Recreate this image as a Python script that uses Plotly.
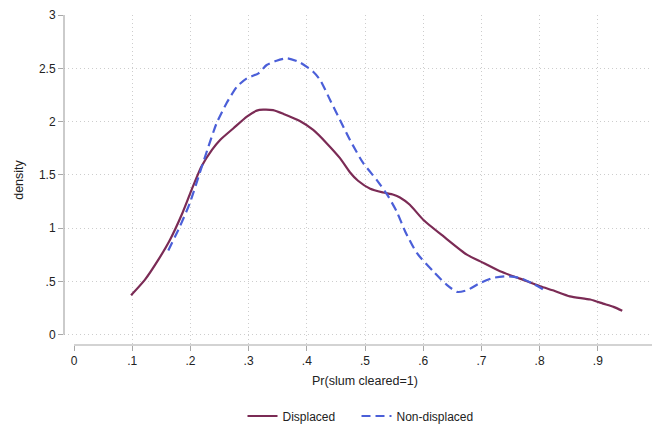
import plotly.graph_objects as go

# Kernel density estimates of the predicted probability that a slum was cleared
displaced_x = [0.098, 0.122, 0.145, 0.165, 0.185, 0.202, 0.219, 0.237, 0.251, 0.274,
               0.297, 0.314, 0.325, 0.342, 0.360, 0.388, 0.411, 0.434, 0.457, 0.474,
               0.488, 0.509, 0.531, 0.549, 0.560, 0.577, 0.600, 0.635, 0.675, 0.698,
               0.732, 0.766, 0.801, 0.824, 0.852, 0.887, 0.909, 0.927, 0.942]
displaced_y = [0.371, 0.518, 0.705, 0.892, 1.126, 1.360, 1.579, 1.735, 1.828, 1.938,
               2.047, 2.103, 2.112, 2.107, 2.072, 2.006, 1.922, 1.798, 1.657, 1.525,
               1.445, 1.370, 1.335, 1.314, 1.288, 1.220, 1.080, 0.923, 0.752, 0.689,
               0.596, 0.527, 0.455, 0.415, 0.361, 0.331, 0.293, 0.262, 0.225]

nondisplaced_x = [0.162, 0.182, 0.199, 0.216, 0.231, 0.245, 0.262, 0.280, 0.297, 0.317,
                  0.331, 0.348, 0.366, 0.388, 0.411, 0.423, 0.440, 0.457, 0.474, 0.497,
                  0.520, 0.540, 0.555, 0.569, 0.589, 0.617, 0.640, 0.658, 0.675, 0.698,
                  0.720, 0.743, 0.766, 0.789, 0.812]
nondisplaced_y = [0.792, 1.017, 1.236, 1.517, 1.766, 1.985, 2.172, 2.328, 2.406, 2.453,
                  2.531, 2.571, 2.594, 2.556, 2.468, 2.390, 2.203, 2.016, 1.829, 1.610,
                  1.454, 1.298, 1.150, 0.970, 0.768, 0.596, 0.471, 0.403, 0.418, 0.487,
                  0.534, 0.549, 0.534, 0.478, 0.408]

x_ticks = [0, 0.1, 0.2, 0.3, 0.4, 0.5, 0.6, 0.7, 0.8, 0.9, 1.0]
x_labels = ["0", ".1", ".2", ".3", ".4", ".5", ".6", ".7", ".8", ".9", "1"]
y_ticks = [0, 0.5, 1, 1.5, 2, 2.5, 3]
y_labels = ["0", ".5", "1", "1.5", "2", "2.5", "3"]

MAROON = "#7b2b55"
BLUE = "#4b5fd8"
AXIS = "#a8a8a8"
GRID = "#cdcdcd"
TEXT = "#222222"
FONT = "Liberation Sans, Arial, Helvetica, sans-serif"

# Plot region is a little wider than the data range so the axes sit apart from it
x_range = [-0.0172, 0.9931]
y_range = [-0.0955, 3.0]

fig = go.Figure()
fig.add_trace(go.Scatter(x=displaced_x, y=displaced_y, mode="lines", name="Displaced",
                         legend="legend",
                         line=dict(color=MAROON, width=2.2, shape="spline", smoothing=0.6)))
fig.add_trace(go.Scatter(x=nondisplaced_x, y=nondisplaced_y, mode="lines", name="Non-displaced",
                         legend="legend2",
                         line=dict(color=BLUE, width=2.2, dash="9px,5px", shape="spline", smoothing=0.6)))

def to_paper(v, rng):
    return (v - rng[0]) / (rng[1] - rng[0])

# Axis lines span only the labelled range
fig.add_shape(type="line", xref="paper", yref="paper",
              x0=0, x1=0, y0=to_paper(y_ticks[0], y_range), y1=to_paper(y_ticks[-1], y_range),
              line=dict(color=AXIS, width=1.2))
fig.add_shape(type="line", xref="paper", yref="paper",
              x0=to_paper(x_ticks[0], x_range), x1=1.01, y0=0, y1=0,
              line=dict(color=AXIS, width=1.2))

# x-axis title centred under the labelled 0..1 span
fig.add_annotation(text="Pr(slum cleared=1)", xref="paper", yref="paper",
                   x=(to_paper(x_ticks[0], x_range) + to_paper(x_ticks[-1], x_range)) / 2,
                   y=-0.108, xanchor="center", yanchor="middle", showarrow=False,
                   font=dict(family=FONT, size=12.5, color=TEXT))

legend_style = dict(orientation="h", xref="container", yref="container",
                    xanchor="left", yanchor="middle", y=0.0326, itemwidth=30,
                    bgcolor="rgba(0,0,0,0)", font=dict(family=FONT, size=12, color=TEXT))

fig.update_layout(
    width=652, height=430,
    margin=dict(l=64, r=0, t=15, b=84.5),
    paper_bgcolor="white", plot_bgcolor="white",
    font=dict(family=FONT, size=12, color=TEXT),
    showlegend=True,
    legend=dict(x=242.5 / 652, **legend_style),
    legend2=dict(x=356.5 / 652, **legend_style),
    xaxis=dict(range=x_range, tickvals=x_ticks, ticktext=x_labels,
               showgrid=False, zeroline=False, showline=False,
               ticks="outside", ticklen=5, tickcolor=AXIS, tickwidth=1,
               minor=dict(tickvals=x_ticks[1:-1], showgrid=True, gridcolor=GRID,
                          griddash="1px,3px", gridwidth=1, ticklen=0),
               automargin=False),
    yaxis=dict(range=y_range, tickvals=y_ticks, ticktext=y_labels,
               showgrid=False, zeroline=False, showline=False,
               ticks="outside", ticklen=5, tickcolor=AXIS, tickwidth=1,
               minor=dict(tickvals=y_ticks[:-1], showgrid=True, gridcolor=GRID,
                          griddash="1px,3px", gridwidth=1, ticklen=0),
               title=dict(text="density", standoff=12, font=dict(size=12.5)),
               automargin=False),
)

fig.write_html("out.html")
